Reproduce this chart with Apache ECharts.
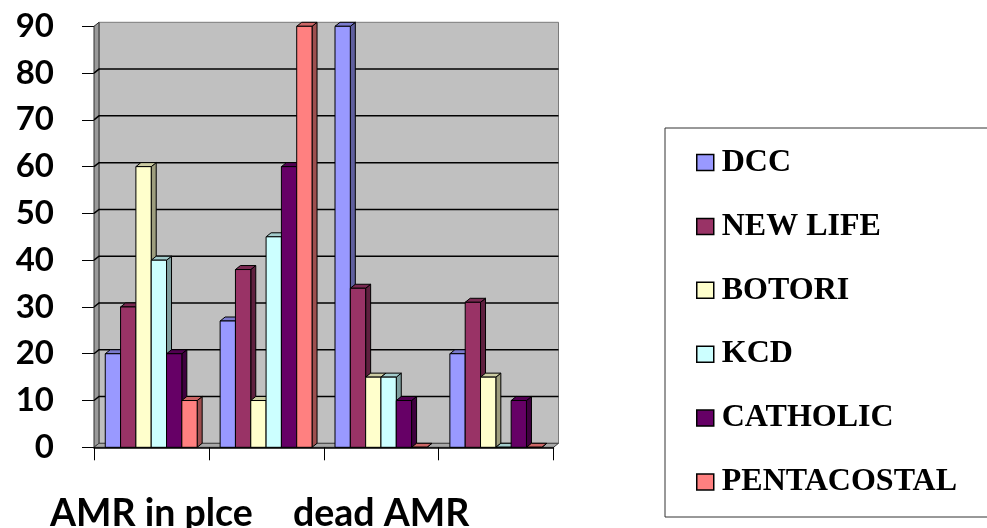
<!DOCTYPE html>
<html>
<head>
<meta charset="utf-8">
<script src="https://cdn.jsdelivr.net/npm/echarts@6/dist/echarts.min.js"></script>
<style>
  html, body { margin: 0; padding: 0; background: #ffffff; }
  #chart { width: 987px; height: 528px; }
</style>
</head>
<body>
<div id="chart"></div>
<script>
// Categories along the horizontal axis (only some carry a caption)
const categories = ['AMR in plce', '', 'dead AMR', ''];

// Values per group
const dcc         = [20, 27, 90, 20];
const newLife     = [30, 38, 34, 31];
const botori      = [60, 10, 15, 15];
const kcd         = [40, 45, 15, 0];
const catholic    = [20, 60, 10, 10];
const pentacostal = [10, 90, 0, 0];

// Value axis ticks
const yTicks = [0, 10, 20, 30, 40, 50, 60, 70, 80, 90];

const seriesNames = ['DCC', 'NEW LIFE', 'BOTORI', 'KCD', 'CATHOLIC', 'PENTACOSTAL'];
const seriesValues = [dcc, newLife, botori, kcd, catholic, pentacostal];
const seriesColors = ['#9999FF', '#993366', '#FFFFCC', '#CCFFFF', '#660066', '#FF8080'];

// depth offset of the pseudo-3D extrusion
const DX = 5, DY = 4;

function shade(hex, f) {
  const n = parseInt(hex.slice(1), 16);
  const r = Math.round(((n >> 16) & 255) * f);
  const g = Math.round(((n >> 8) & 255) * f);
  const b = Math.round((n & 255) * f);
  return 'rgb(' + r + ',' + g + ',' + b + ')';
}

// Back wall, side wall, floor and gridlines of the 3D box
function renderFrame(params, api) {
  const cs = params.coordSys;
  const left = cs.x, right = cs.x + cs.width;
  const top = cs.y, bottom = cs.y + cs.height;
  const children = [];
  children.push({
    type: 'rect',
    shape: { x: left + DX, y: top - DY, width: cs.width, height: cs.height },
    style: { fill: '#C0C0C0', stroke: '#7a7a7a', lineWidth: 1 }
  });
  children.push({
    type: 'polygon',
    shape: { points: [[left, bottom], [left, top], [left + DX, top - DY], [left + DX, bottom - DY]] },
    style: { fill: '#9a9a9a', stroke: '#303030', lineWidth: 1 }
  });
  yTicks.forEach(function (v) {
    if (v === yTicks[0] || v === yTicks[yTicks.length - 1]) return;
    const y = api.coord([0, v])[1];
    children.push({
      type: 'polyline',
      shape: { points: [[left, y], [left + DX, y - DY], [right + DX, y - DY]] },
      style: { fill: null, stroke: '#000', lineWidth: 1.5 }
    });
  });
  children.push({
    type: 'polygon',
    shape: { points: [[left, bottom], [left + DX, bottom - DY], [right + DX, bottom - DY], [right, bottom]] },
    style: { fill: '#a8a8a8', stroke: '#404040', lineWidth: 1 }
  });
  return { type: 'group', children: children };
}

function makeBarRenderer(idx) {
  const color = seriesColors[idx];
  return function (params, api) {
    const c = api.value(0);
    const v = api.value(1);
    const base = api.coord([c, 0]);
    const topPt = api.coord([c, v]);
    const band = api.size([1, 0])[0];
    const w = band * 0.8 / 6;
    const x0 = base[0] - band / 2 + band * 0.098 + idx * w;
    const x1 = x0 + w;
    const yb = base[1], yt = topPt[1];
    return {
      type: 'group',
      children: [
        {
          type: 'polygon',
          shape: { points: [[x1, yt], [x1 + DX, yt - DY], [x1 + DX, yb - DY], [x1, yb]] },
          style: { fill: shade(color, 0.62), stroke: '#000', lineWidth: 1 }
        },
        {
          type: 'polygon',
          shape: { points: [[x0, yt], [x0 + DX, yt - DY], [x1 + DX, yt - DY], [x1, yt]] },
          style: { fill: shade(color, 0.8), stroke: '#000', lineWidth: 1 }
        },
        {
          type: 'rect',
          shape: { x: x0, y: yt, width: w, height: yb - yt },
          style: { fill: color, stroke: '#000', lineWidth: 1 }
        }
      ]
    };
  };
}

const series = [{
  name: 'frame',
  type: 'custom',
  silent: true,
  clip: false,
  z: 1,
  data: [[0, 0]],
  encode: { x: 0, y: 1 },
  renderItem: renderFrame
}];

seriesNames.forEach(function (name, i) {
  series.push({
    name: name,
    type: 'custom',
    clip: false,
    z: 2,
    itemStyle: { color: seriesColors[i] },
    encode: { x: 0, y: 1 },
    data: seriesValues[i].map(function (v, k) { return [k, v]; }),
    renderItem: makeBarRenderer(i)
  });
});

const chart = echarts.init(document.getElementById('chart'), null, { renderer: 'canvas' });
chart.setOption({
  backgroundColor: '#ffffff',
  animation: false,
  grid: { left: 94, right: 433.5, top: 26.3, bottom: 80.7, containLabel: false, outerBoundsMode: 'none' },
  xAxis: {
    type: 'category',
    data: categories,
    boundaryGap: true,
    axisLine: { show: true, lineStyle: { color: '#000', width: 1.5 } },
    axisTick: { show: true, length: 13, interval: 0, lineStyle: { color: '#000', width: 1 } },
    axisLabel: {
      interval: 0,
      margin: 48,
      fontFamily: 'Lato',
      fontWeight: 'bold',
      fontSize: 37.5,
      lineHeight: 37.5,
      color: '#000'
    },
    splitLine: { show: false },
    z: 3
  },
  yAxis: {
    type: 'value',
    min: yTicks[0],
    max: yTicks[yTicks.length - 1],
    interval: 10,
    axisLine: { show: true, lineStyle: { color: '#000', width: 1 } },
    axisTick: { show: true, length: 12, lineStyle: { color: '#000', width: 1 } },
    axisLabel: {
      margin: 40,
      fontFamily: 'Lato',
      fontWeight: 'bold',
      fontSize: 33,
      color: '#000'
    },
    splitLine: { show: false }
  },
  legend: {
    orient: 'vertical',
    left: 665,
    top: 128,
    padding: [18.5, 35, 19, 31],
    itemGap: 31.9,
    itemWidth: 17,
    itemHeight: 16,
    borderColor: '#333',
    borderWidth: 1,
    backgroundColor: '#fff',
    textStyle: {
      fontFamily: 'Liberation Serif',
      fontWeight: 'bold',
      fontSize: 32,
      lineHeight: 32,
      color: '#000',
      padding: [0, 0, 0, 3]
    },
    data: seriesNames.map(function (name, i) {
      return {
        name: name,
        icon: 'rect',
        itemStyle: { color: seriesColors[i], borderColor: '#000', borderWidth: 1.5 }
      };
    })
  },
  series: series
});
</script>
</body>
</html>
